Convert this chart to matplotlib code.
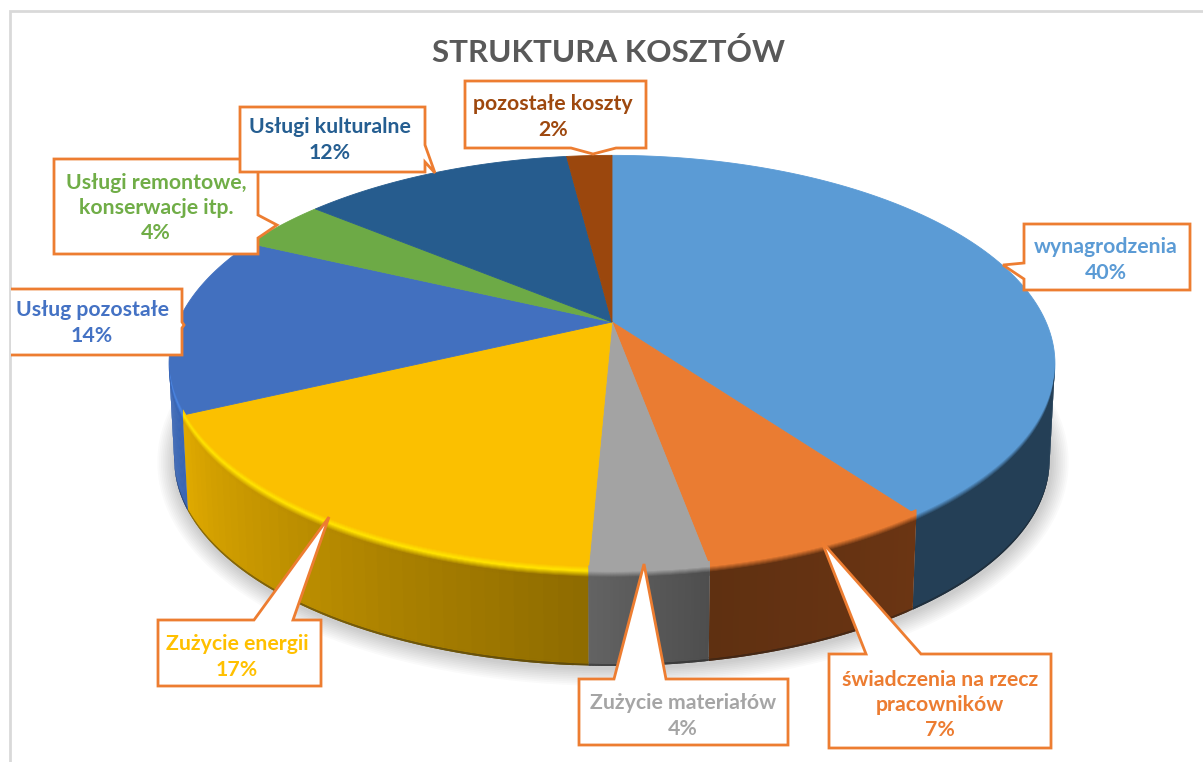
import matplotlib
matplotlib.use("Agg")
import matplotlib.pyplot as plt
import numpy as np
from matplotlib.collections import PolyCollection
from matplotlib.colors import to_rgb
from matplotlib.patches import Polygon, Rectangle

# data
names = ["wynagrodzenia", "świadczenia na rzecz\npracowników", "Zużycie materiałów",
         "Zużycie energii", "Usług pozostałe", "Usługi remontowe,\nkonserwacje itp.",
         "Usługi kulturalne", "pozostałe koszty"]
values = [40, 7.1, 3.6, 17.3, 14, 4, 12, 2]

# styles
top_colors = ["#5B9BD5", "#EC7C31", "#A5A5A5", "#FFC000", "#4472C4", "#70AD47", "#255E91", "#9E480E"]
top_draw = ["#5B9BD5", "#EA7C32", "#A3A3A3", "#FBC000", "#4270BF", "#6DAA46", "#265C8E", "#9B470D"]
wall_start = ["#243F56", "#6B3513", "#4E4E4E", "#8E6B00", "#3A66B4", "#000000", "#000000", "#000000"]
wall_end = ["#243F56", "#5F3011", "#636363", "#E0AA00", "#3F6EC0", "#000000", "#000000", "#000000"]
rim_colors = ["#5B9BD5", "#EA7C32", "#A3A3A3", "#FFE000", "#4C86E2", "#6DAA46", "#265C8E", "#9B470D"]
border = "#ED7D31"

# callouts drawn as outline points, in pixels
callouts = [
    [(1024, 224), (1190, 224), (1190, 290), (1024, 290), (1024, 279), (1003, 265), (1024, 263)],
    [(829, 654), (866, 654), (822, 542), (921, 654), (1051, 654), (1051, 748), (829, 748)],
    [(579, 679), (614, 679), (644, 564), (666, 679), (788, 679), (788, 745), (579, 745)],
    [(158, 620), (254, 620), (329, 517), (293, 620), (321, 620), (321, 686), (158, 686)],
    [(11, 289), (182, 289), (182, 322), (184, 325), (182, 328), (182, 355), (11, 355)],
    [(54, 159), (258, 159), (258, 215), (277, 225), (258, 238), (258, 254), (54, 254)],
    [(240, 107), (425, 107), (425, 145), (435, 173), (425, 162), (425, 172), (240, 172)],
    [(465, 81), (646, 81), (646, 148), (616, 148), (593, 154), (571, 148), (465, 148)],
]
label_pos = [(1106, 260), (940, 705), (683, 716), (237, 657), (92, 323), (156, 208), (330, 140), (553, 117)]
draw_order = [0, 1, 2, 3, 4, 5, 7, 6]

# pie geometry
cx, cy = 612, 322
rx, ry, persp = 434, 200, 0.2
depth = 97
narrow = 0.012


def rim(theta, dz=0.0):
    s = 1 - narrow * max(dz, 0) / depth
    den = 1 + persp * np.cos(theta)
    return cx + s * rx * np.sin(theta) / den, cy + dz - s * ry * np.cos(theta) / den


def mix(a, b, t):
    return tuple((1 - t) * np.array(a) + t * np.array(b))


fig = plt.figure(figsize=(12.03, 7.62), dpi=100)
ax = fig.add_axes([0, 0, 1, 1])
ax.set_xlim(0, 1203)
ax.set_ylim(762, 0)
ax.axis("off")

ax.add_patch(Rectangle((10, 11), 1210, 770, fc="white", ec="#D9D9D9", lw=2, zorder=0))

edges = np.radians(np.cumsum([0] + values) * 3.6)
front_a, front_b = np.radians(101.5), np.radians(258.5)

# soft shadow under the pie
th = np.linspace(front_a - 0.25, front_b + 0.25, 300)
xs, ys = rim(th, depth)
for k in range(1, 11):
    ax.plot(xs + 1, ys + 2, color="black", lw=k * 2.6, alpha=0.02, zorder=1, solid_capstyle="round")

# top face
for i in range(len(values)):
    t = np.linspace(edges[i], edges[i + 1], 120)
    x, y = rim(t)
    ax.fill(np.r_[cx, x], np.r_[cy, y], color=top_draw[i], lw=0.6, zorder=3)

# side wall, strips from just inside the top edge to the floor
# every strip overlaps the next one so that no seam shows
rows = list(range(-6, 9)) + [depth - 4, depth - 2, depth]
for i in range(len(values)):
    a, b = max(edges[i], front_a), min(edges[i + 1], front_b)
    if a >= b:
        continue
    t = np.linspace(a, b, 40)
    frac = (t - edges[i]) / (edges[i + 1] - edges[i])
    top, hi = to_rgb(top_draw[i]), to_rgb(rim_colors[i])
    w0, w1 = to_rgb(wall_start[i]), to_rgb(wall_end[i])
    polys, cols = [], []
    for j in range(len(rows) - 1):
        d0, d1 = rows[j], min(rows[j + 1] + 1, depth)
        x0, y0 = rim(t, d0)
        x1, y1 = rim(t, d1)
        for n in range(len(t) - 1):
            m = min(n + 2, len(t) - 1)
            polys.append([(x0[n], y0[n]), (x0[m], y0[m]), (x1[m], y1[m]), (x1[n], y1[n])])
            wall = mix(w0, w1, (frac[n] + frac[n + 1]) / 2)
            if d0 < -2:
                c = mix(top, hi, (d0 + 6) / 4)
            elif d0 < 0:
                c = hi
            elif d0 < 8:
                c = mix(hi, wall, min((d0 + 1) / 6, 1))
            elif d0 >= depth - 2:
                c = mix(wall, (0.1, 0.1, 0.1), 0.4)
            else:
                c = wall
            cols.append(c)
    ax.add_collection(PolyCollection(polys, facecolors=cols, edgecolors="none", linewidths=0, zorder=4))

# callouts and labels
for i in draw_order:
    ax.add_patch(Polygon(callouts[i], closed=i != 4, fc="white", ec=border, lw=2,
                         zorder=6 + draw_order.index(i) / 10, joinstyle="miter"))
    ax.text(label_pos[i][0], label_pos[i][1], f"{names[i]}\n{values[i]:.0f}%", ha="center", va="center",
            color=top_colors[i], fontsize=15.3, fontweight="bold", family="Lato", linespacing=1.34,
            zorder=8)

ax.text(609, 53, "STRUKTURA KOSZTÓW", ha="center", va="center", color="#595959", fontsize=22.6,
        fontweight="bold", family="Lato")

fig.savefig("out.png", dpi=100)
